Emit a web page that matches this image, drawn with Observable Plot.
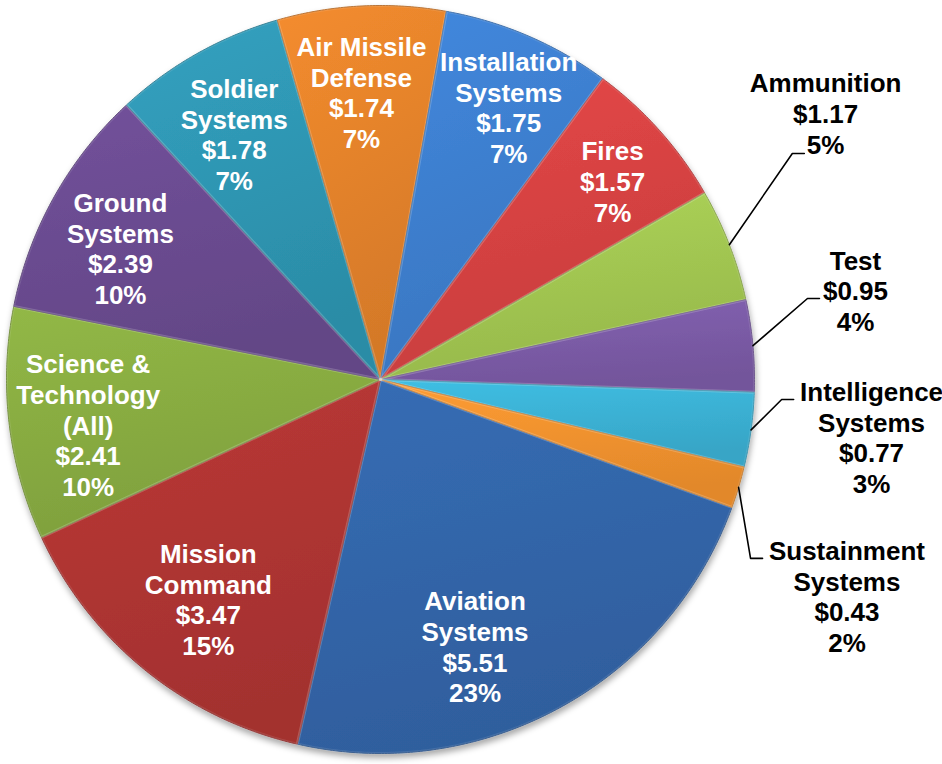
<!DOCTYPE html>
<html>
<head>
<meta charset="utf-8">
<script src="https://cdn.jsdelivr.net/npm/d3@7"></script>
<script src="https://cdn.jsdelivr.net/npm/@observablehq/plot@0.6"></script>
<style>
  html, body { margin: 0; padding: 0; background: #ffffff; overflow: hidden; }
  #chart svg { display: block; }
</style>
</head>
<body>
<div id="chart"></div>
<script>
// ---------- data ----------
const categories = [
  "Aviation\nSystems", "Mission\nCommand", "Science &\nTechnology\n(All)", "Ground\nSystems",
  "Soldier\nSystems", "Air Missile\nDefense", "Installation\nSystems", "Fires",
  "Ammunition", "Test", "Intelligence\nSystems", "Sustainment\nSystems"
];
const values = [5.51, 3.47, 2.41, 2.39, 1.78, 1.74, 1.75, 1.57, 1.17, 0.95, 0.77, 0.43];
const percentLabels = ["23%", "15%", "10%", "10%", "7%", "7%", "7%", "7%", "5%", "4%", "3%", "2%"];
const labelOutside = [false, false, false, false, false, false, false, false, true, true, true, true];

// ---------- styling / layout ----------
const palette = [
  "#3366aa", "#b03533", "#89ad42", "#6b4c91", "#2f97b4", "#e5832b",
  "#3e80d0", "#d84343", "#a3c852", "#7c5ca8", "#3bb3d6", "#f4932f"
];
const startDeg = 110;
// label anchor in polar form [angle in degrees clockwise from 12 o'clock, radius fraction]
const labelPolar = [
  [160.5, 0.757], [218.1, 0.746], [261.2, 0.791], [296.8, 0.779],
  [329.2, 0.764], [356.2, 0.770], [25.2, 0.805], [49.5, 0.816],
  [59.1, 1.387], [79.4, 1.292], [96.7, 1.322], [114.9, 1.375]
];
// leader line elbows for outside labels (polar) and horizontal tail length (radius units)
const leaderElbow = [null, null, null, null, null, null, null, null,
  [61.25, 1.256], [79.26, 1.162], [92.86, 1.074], [115.8, 1.099]];
const leaderTail = 0.032;

const W = 942, H = 764, CX = 380, CY = 379, R = 374;
const rad = d => d * Math.PI / 180;
const polar = (deg, r) => [Math.sin(rad(deg)) * r, Math.cos(rad(deg)) * r];

// ---------- geometry ----------
const pie = d3.pie().sort(null).value(d => d)
  .startAngle(rad(startDeg)).endAngle(rad(startDeg) + 2 * Math.PI)(values);

const slicePts = [];
pie.forEach((p, i) => {
  const a0 = p.startAngle, a1 = p.endAngle;
  const n = Math.max(4, Math.ceil((a1 - a0) / rad(0.5)));
  slicePts.push({i, x: 0, y: 0});
  for (let k = 0; k <= n; k++) {
    const a = a0 + (a1 - a0) * k / n;
    slicePts.push({i, x: Math.sin(a), y: Math.cos(a)});
  }
  slicePts.push({i, x: 0, y: 0});
});

const labels = categories.map((c, i) => {
  const [x, y] = polar(labelPolar[i][0], labelPolar[i][1]);
  return {x, y, text: `${c}\n$${values[i].toFixed(2)}\n${percentLabels[i]}`, outside: labelOutside[i]};
});

const leaderPts = [];
pie.forEach((p, i) => {
  if (!leaderElbow[i]) return;
  const mid = (p.startAngle + p.endAngle) / 2;
  const [ex, ey] = polar(leaderElbow[i][0], leaderElbow[i][1]);
  leaderPts.push({i, x: Math.sin(mid), y: Math.cos(mid)});
  leaderPts.push({i, x: ex, y: ey});
  leaderPts.push({i, x: ex + leaderTail, y: ey});
});

const font = "'Liberation Sans', Arial, Helvetica, sans-serif";

const chart = Plot.plot({
  width: W,
  height: H,
  margin: 0,
  style: {background: "#ffffff", overflow: "visible"},
  x: {domain: [-CX / R, (W - CX) / R], range: [0, W], axis: null},
  y: {domain: [-(H - CY) / R, CY / R], range: [H, 0], axis: null},
  color: {type: "identity"},
  marks: [
    Plot.line(slicePts, {
      x: "x", y: "y", z: "i",
      fill: d => `url(#sliceGrad${d.i})`,
      stroke: d => d3.color(palette[d.i]).darker(0.7).formatHex(),
      strokeWidth: 1,
      strokeLinejoin: "round",
      curve: "linear"
    }),
    Plot.line(slicePts, {
      x: "x", y: "y", z: "i",
      stroke: "#ffffff",
      strokeOpacity: 0.1,
      strokeWidth: 3,
      curve: "linear"
    }),
    Plot.line(leaderPts, {
      x: "x", y: "y", z: "i",
      stroke: "#000000",
      strokeWidth: 1.6
    }),
    Plot.text(labels, {
      x: "x", y: "y", text: "text",
      fill: d => d.outside ? "#000000" : "#ffffff",
      fontSize: 26,
      fontWeight: "bold",
      fontFamily: font,
      lineHeight: 1.18,
      lineAnchor: "middle",
      textAnchor: "middle"
    })
  ]
});

// gradients & shadow definitions
const ns = "http://www.w3.org/2000/svg";
const defs = document.createElementNS(ns, "defs");
palette.forEach((c, i) => {
  const g = document.createElementNS(ns, "linearGradient");
  g.setAttribute("id", `sliceGrad${i}`);
  g.setAttribute("x1", "0"); g.setAttribute("y1", "0");
  g.setAttribute("x2", "0.3"); g.setAttribute("y2", "1");
  const stops = [[0, d3.color(c).brighter(0.18)], [1, d3.color(c).darker(0.22)]];
  stops.forEach(([o, col]) => {
    const s = document.createElementNS(ns, "stop");
    s.setAttribute("offset", o);
    s.setAttribute("stop-color", col.formatHex());
    g.appendChild(s);
  });
  defs.appendChild(g);
});
const filt = document.createElementNS(ns, "filter");
filt.setAttribute("id", "pieShadow");
filt.setAttribute("x", "-10%"); filt.setAttribute("y", "-10%");
filt.setAttribute("width", "120%"); filt.setAttribute("height", "120%");
filt.innerHTML = '<feDropShadow dx="1" dy="4" stdDeviation="3" flood-color="#000" flood-opacity="0.35"/>';
defs.appendChild(filt);
chart.insertBefore(defs, chart.firstChild);

const lineGroups = chart.querySelectorAll('g[aria-label="line"]');
if (lineGroups.length) lineGroups[0].setAttribute("filter", "url(#pieShadow)");

document.getElementById("chart").appendChild(chart);
</script>
</body>
</html>
